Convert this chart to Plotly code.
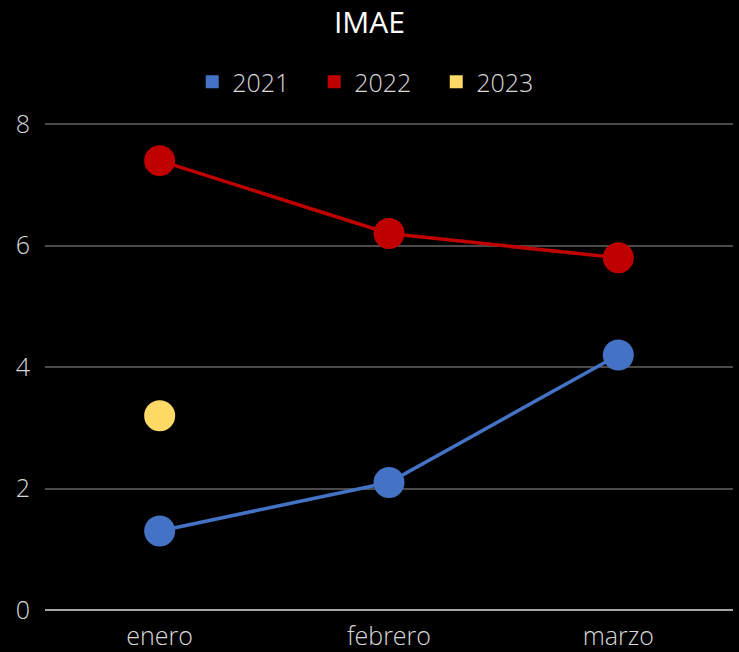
import plotly.graph_objects as go

months = ["enero", "febrero", "marzo"]
imae_2021 = [1.3, 2.1, 4.2]
imae_2022 = [7.4, 6.2, 5.8]
imae_2023 = [3.2, None, None]
series_names = ["2021", "2022", "2023"]
colors = ["#4472C4", "#C00000", "#FFD966"]
y_ticks = [0, 2, 4, 6, 8]

fig = go.Figure()
for name, vals, col in zip(series_names, [imae_2021, imae_2022, imae_2023], colors):
    fig.add_trace(go.Scatter(
        x=months, y=vals, mode="lines+markers", name=name,
        line=dict(color=col, width=3.5),
        marker=dict(color=col, size=31),
        showlegend=False, connectgaps=False,
    ))
for name, col in zip(series_names, colors):
    fig.add_trace(go.Scatter(
        x=[None], y=[None], mode="markers", name=name,
        marker=dict(color=col, size=13, symbol="square"),
        showlegend=True,
    ))

fig.update_layout(
    width=739, height=652,
    paper_bgcolor="#000000", plot_bgcolor="#000000",
    margin=dict(l=45, r=6, t=123, b=42),
    title=dict(text="IMAE", x=0.5, xanchor="center", y=0.966, yanchor="middle",
               font=dict(family="Open Sans", size=30, color="#ffffff")),
    legend=dict(orientation="h", x=0.48, xanchor="center", y=1.084, yanchor="middle",
                font=dict(family="Open Sans", size=25, color="#d9d9d9", weight=300),
                itemwidth=30, entrywidth=77, bgcolor="rgba(0,0,0,0)"),
    font=dict(family="Open Sans", color="#d9d9d9"),
)
fig.update_xaxes(
    type="category", range=[-0.5, 2.5], showgrid=False, zeroline=False,
    showline=False, tickfont=dict(family="Open Sans", size=25, color="#d9d9d9", weight=300),
    ticks="", ticklabelstandoff=9, automargin=False, fixedrange=True,
)
fig.update_yaxes(
    range=[0, 8.02], tickvals=y_ticks, showgrid=True, gridcolor="#4a4a4a", gridwidth=1.5,
    zeroline=True, zerolinecolor="#a6a6a6", zerolinewidth=2,
    tickfont=dict(family="Open Sans", size=25, color="#d9d9d9", weight=300),
    ticks="", ticklabelstandoff=14, automargin=False, fixedrange=True,
)

fig.write_html(
    "out.html",
    config={"displayModeBar": False},
    post_script="document.body.style.margin='0';document.body.style.background='#000';",
)
